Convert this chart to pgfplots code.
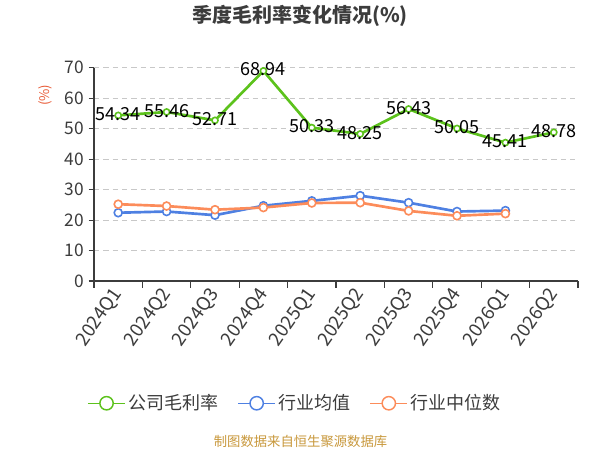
\documentclass[border=0pt]{standalone}
\usepackage{pgfplots}
\pgfplotsset{compat=1.18}
\usepackage{fontspec}
\setmainfont{Noto Sans CJK SC}
\definecolor{cgreen}{RGB}{92,194,28}
\definecolor{cblue}{RGB}{78,128,226}
\definecolor{corange}{RGB}{252,140,90}
\definecolor{ctext}{RGB}{60,60,60}
\definecolor{cgrid}{RGB}{200,200,200}
\definecolor{cfoot}{RGB}{200,152,60}
\definecolor{cunit}{RGB}{232,92,56}
\begin{document}
\begin{tikzpicture}
\path[use as bounding box] (0,0) rectangle (450pt,337.5pt);
\begin{axis}[
  at={(70.5pt,126.75pt)}, anchor=south west,
  scale only axis, width=363pt, height=160pt,
  xmin=-0.5, xmax=9.5, ymin=0, ymax=70,
  axis x line=bottom, axis y line=left,
  axis line style={-, ctext, line width=0.8pt},
  xtick={0,...,9},
  xticklabels={2024Q1,2024Q2,2024Q3,2024Q4,2025Q1,2025Q2,2025Q3,2025Q4,2026Q1,2026Q2},
  minor xtick={-0.5,0.5,...,9.5},
  x tick style={draw=none},
  minor x tick style={draw=ctext, line width=0.8pt},
  minor tick length=5pt,
  xtick align=outside,
  ytick={0,10,...,70},
  y tick style={draw=ctext, line width=0.8pt},
  major tick length=4pt,
  ytick align=outside,
  ymajorgrids,
  grid style={cgrid, dash pattern=on 4pt off 3pt, line width=0.7pt},
  xticklabel style={rotate=55, anchor=east, font=\fontsize{14}{16}\selectfont, text=ctext, yshift=-2pt, xshift=1pt},
  yticklabel style={font=\fontsize{13}{15}\selectfont, text=ctext},
  /pgf/number format/assume math mode=true,
  legend columns=3,
  legend style={at={(0.416,-0.573)}, anchor=center, draw=none, fill=none,
    font=\fontsize{13.5}{15}\selectfont, text=ctext,
    /tikz/every even column/.append style={column sep=12pt}},
  legend cell align=left,
  legend image code/.code={
    \draw[#1, line width=1.1pt] (0pt,0pt) -- (28pt,0pt);
    \draw[#1, line width=1.1pt, fill=white] (14pt,0pt) circle (5pt);
  },
  clip=false,
]
\addplot[cgreen, line width=2pt, mark=*, mark size=2.3pt,
  mark options={fill=white, line width=1.2pt},
  nodes near coords,
  nodes near coords style={anchor=center, yshift=1pt, text=black, font=\fontsize{13.5}{15}\selectfont,
    /pgf/number format/.cd, fixed, fixed zerofill, precision=2, assume math mode=true},
  point meta=y]
coordinates {(0,54.34) (1,55.46) (2,52.71) (3,68.94) (4,50.33) (5,48.25) (6,56.43) (7,50.05) (8,45.41) (9,48.78)};
\addlegendentry{公司毛利率}
\addplot[cblue, line width=2pt, mark=*, mark size=3pt,
  mark options={fill=white, line width=1.2pt}]
coordinates {(0,22.4) (1,22.8) (2,21.6) (3,24.7) (4,26.3) (5,28.0) (6,25.7) (7,22.8) (8,23.1)};
\addlegendentry{行业均值}
\addplot[corange, line width=2pt, mark=*, mark size=3pt,
  mark options={fill=white, line width=1.2pt}]
coordinates {(0,25.2) (1,24.6) (2,23.4) (3,24.1) (4,25.6) (5,25.7) (6,23.0) (7,21.4) (8,22.1)};
\addlegendentry{行业中位数}
\end{axis}
\node[font=\fontsize{15}{17}\selectfont\bfseries, text=ctext] at (225pt,325.5pt) {季度毛利率变化情况(\%)};
\node[rotate=90, font=\fontsize{10}{12}\selectfont, text=cunit] at (33.75pt,266pt) {(\%)};
\node[font=\fontsize{10}{12}\selectfont, text=cfoot] at (225.4pt,6.75pt) {制图数据来自恒生聚源数据库};
\end{tikzpicture}
\end{document}
